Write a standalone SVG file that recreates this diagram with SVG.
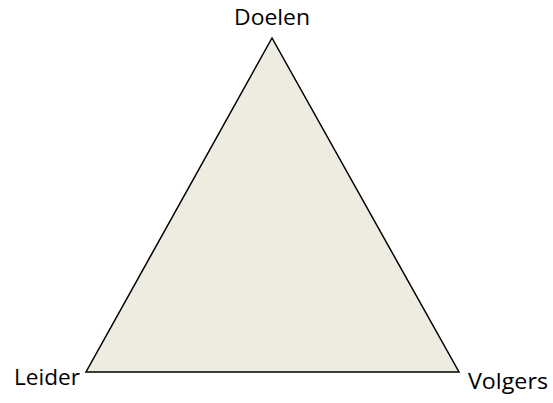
<svg xmlns="http://www.w3.org/2000/svg" width="553" height="403" viewBox="0 0 553 403">
<style>
.lbl{font-family:"Open Sans","Liberation Sans",sans-serif;font-size:22px;fill:#000}
</style>
<rect width="553" height="403" fill="#fff"/>
<g id="triangle">
<polygon points="272,38 86,372 459,372" fill="#EEECE1" stroke="#000" stroke-width="1.5" stroke-linejoin="miter"/>
</g>
<g id="doelen"><text class="lbl" x="272" y="25" text-anchor="middle" textLength="76" lengthAdjust="spacingAndGlyphs">Doelen</text></g>
<g id="leider"><text class="lbl" x="14" y="385" textLength="66" lengthAdjust="spacingAndGlyphs">Leider</text></g>
<g id="volgers"><text class="lbl" x="468" y="389" textLength="80" lengthAdjust="spacingAndGlyphs">Volgers</text></g>
<g id="connectors"></g>
</svg>
